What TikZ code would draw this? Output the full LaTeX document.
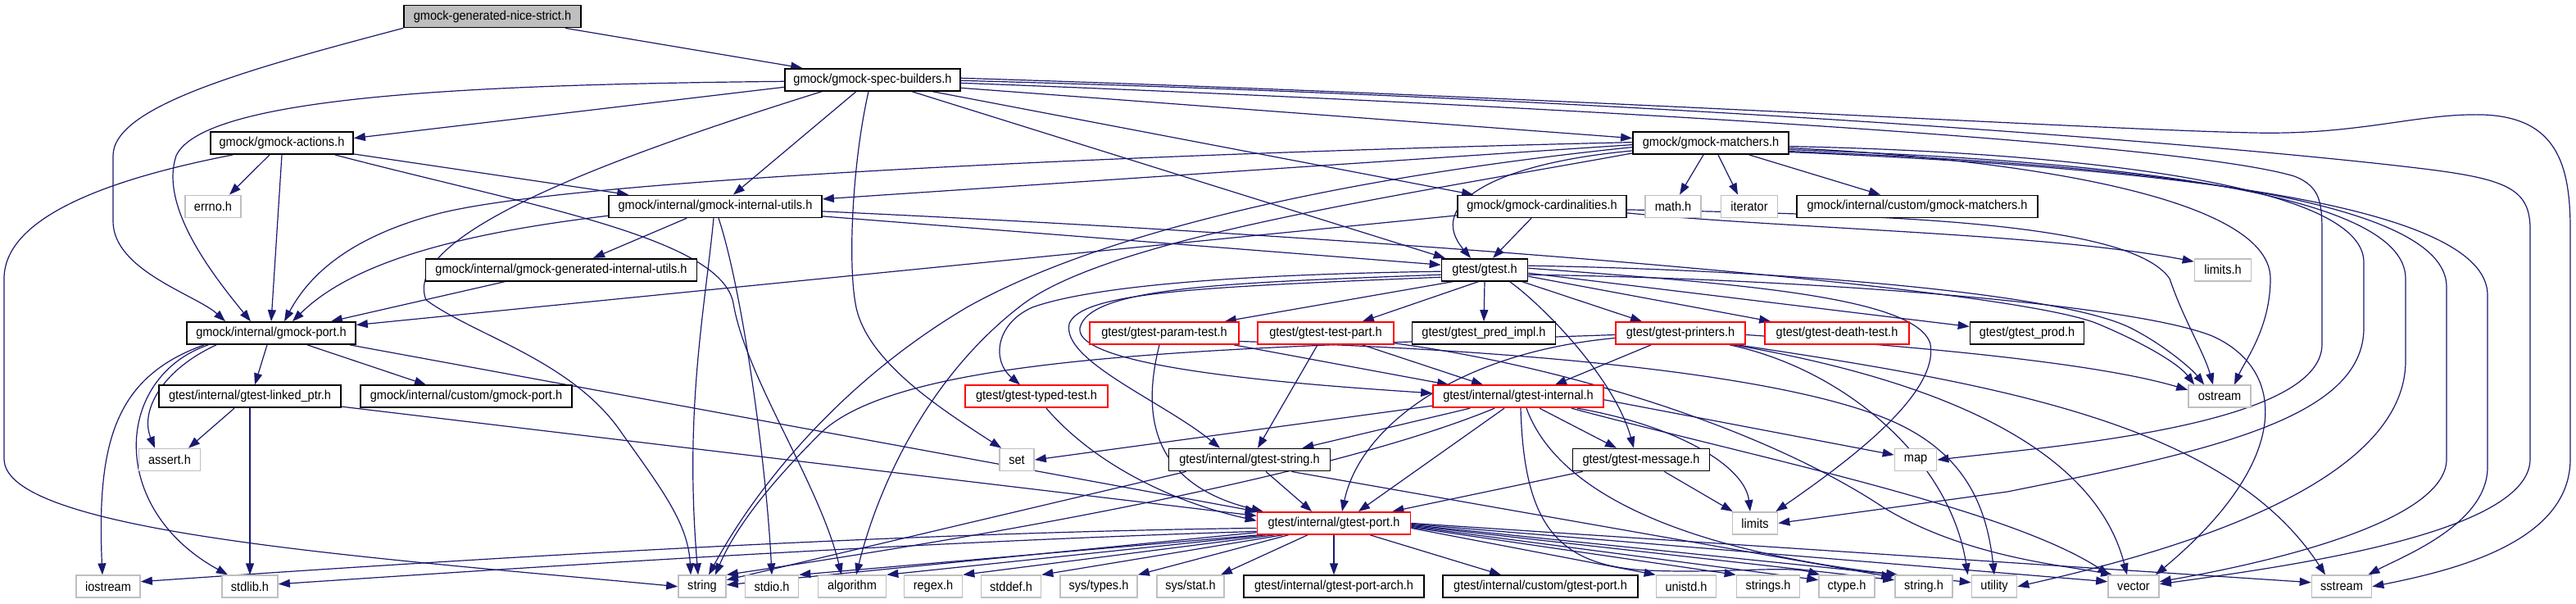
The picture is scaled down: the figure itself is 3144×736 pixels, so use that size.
\documentclass[tikz,border=0pt]{standalone}
\usepackage{fontspec}
\setmainfont{Liberation Sans}[FakeStretch=0.92]
\usetikzlibrary{arrows.meta,calc}
\definecolor{edgeblue}{RGB}{25,25,112}
\definecolor{sysgray}{RGB}{191,191,191}
\definecolor{rootgray}{RGB}{191,191,191}
\definecolor{truncred}{RGB}{255,0,0}
\pgfdeclarelayer{bg}
\pgfsetlayers{bg,main}
\tikzset{
  nd/.style={draw=black, line width=1.7pt, fill=white, minimum height=27pt, inner xsep=3pt, inner ysep=0pt, text=black},
  sys/.style={nd, draw=sysgray},
  trunc/.style={nd, draw=truncred},
  root/.style={nd, fill=rootgray},
  edg/.style={draw=edgeblue, line width=1.2pt, -{Triangle[length=14pt,width=10pt]}}
}
\begin{document}
\begin{tikzpicture}[x=1pt,y=-1pt,font=\fontsize{15.8}{18}\selectfont]
\useasboundingbox (0,0) rectangle (3144,736);
% row 0
\node[root, minimum width=216pt] (ns) at (601,20) {gmock-generated-nice-strict.h};
% row 1
\node[nd, minimum width=214pt] (sb) at (1065,97.3) {gmock/gmock-spec-builders.h};
% row 2
\node[nd, minimum width=174pt] (act) at (344,174.6) {gmock/gmock-actions.h};
\node[nd, minimum width=190pt] (mat) at (2088,174.6) {gmock/gmock-matchers.h};
% row 3
\node[sys, minimum width=68pt] (errno) at (260,251.9) {errno.h};
\node[nd, minimum width=260pt] (iu) at (873,251.9) {gmock/internal/gmock-internal-utils.h};
\node[nd, minimum width=206pt] (card) at (1882,251.9) {gmock/gmock-cardinalities.h};
\node[sys, minimum width=68pt] (math) at (2042,251.9) {math.h};
\node[sys, minimum width=69pt] (iter) at (2135,251.9) {iterator};
\node[nd, minimum width=294pt] (cgm) at (2340,251.9) {gmock/internal/custom/gmock-matchers.h};
% row 4
\node[nd, minimum width=331pt] (giu) at (685,329.2) {gmock/internal/gmock-generated-internal-utils.h};
\node[nd, minimum width=105pt] (gt) at (1812,329.2) {gtest/gtest.h};
\node[sys, minimum width=69pt] (limitsh) at (2713,329.2) {limits.h};
% row 5
\node[nd, minimum width=206pt] (gp) at (331,406.5) {gmock/internal/gmock-port.h};
\node[trunc, minimum width=182pt] (param) at (1421,406.5) {gtest/gtest-param-test.h};
\node[trunc, minimum width=166pt] (tpart) at (1618,406.5) {gtest/gtest-test-part.h};
\node[nd, minimum width=175pt] (pred) at (1811,406.5) {gtest/gtest\_pred\_impl.h};
\node[trunc, minimum width=158pt] (print) at (2051,406.5) {gtest/gtest-printers.h};
\node[trunc, minimum width=176pt] (death) at (2242,406.5) {gtest/gtest-death-test.h};
\node[nd, minimum width=139pt] (prod) at (2474,406.5) {gtest/gtest\_prod.h};
% row 6
\node[nd, minimum width=222pt] (lp) at (305,483.8) {gtest/internal/gtest-linked\_ptr.h};
\node[nd, minimum width=258pt] (cgp) at (569,483.8) {gmock/internal/custom/gmock-port.h};
\node[trunc, minimum width=174pt] (typed) at (1265,483.8) {gtest/gtest-typed-test.h};
\node[trunc, minimum width=208pt] (gi) at (1853,483.8) {gtest/internal/gtest-internal.h};
\node[sys, minimum width=76pt] (ostream) at (2709,483.8) {ostream};
% row 7
\node[sys, minimum width=75pt] (assert) at (207,561.1) {assert.h};
\node[sys, minimum width=42pt] (set) at (1241,561.1) {set};
\node[nd, minimum width=197pt] (gs) at (1525,561.1) {gtest/internal/gtest-string.h};
\node[nd, minimum width=167pt] (msg) at (2003,561.1) {gtest/gtest-message.h};
\node[sys, minimum width=51pt] (map) at (2338,561.1) {map};
% row 8
\node[trunc, minimum width=187pt] (tp) at (1628,638.4) {gtest/internal/gtest-port.h};
\node[sys, minimum width=55pt] (limits) at (2142,638.4) {limits};
% row 9
\node[sys, minimum width=78pt] (iostream) at (132,715.7) {iostream};
\node[sys, minimum width=68pt] (stdlib) at (305,715.7) {stdlib.h};
\node[sys, minimum width=58pt] (string) at (857,715.7) {string};
\node[sys, minimum width=65pt] (stdio) at (942,715.7) {stdio.h};
\node[sys, minimum width=83pt] (algorithm) at (1040,715.7) {algorithm};
\node[sys, minimum width=71pt] (regex) at (1139,715.7) {regex.h};
\node[sys, minimum width=73pt] (stddef) at (1234,715.7) {stddef.h};
\node[sys, minimum width=94pt] (systypes) at (1341,715.7) {sys/types.h};
\node[sys, minimum width=82pt] (sysstat) at (1453,715.7) {sys/stat.h};
\node[nd, minimum width=220pt] (arch) at (1628,715.7) {gtest/internal/gtest-port-arch.h};
\node[nd, minimum width=238pt] (cgtp) at (1880,715.7) {gtest/internal/custom/gtest-port.h};
\node[sys, minimum width=73pt] (unistd) at (2058,715.7) {unistd.h};
\node[sys, minimum width=77pt] (strings) at (2158,715.7) {strings.h};
\node[sys, minimum width=68pt] (ctype) at (2254,715.7) {ctype.h};
\node[sys, minimum width=70pt] (stringh) at (2348,715.7) {string.h};
\node[sys, minimum width=55pt] (utility) at (2434,715.7) {utility};
\node[sys, minimum width=62pt] (vector) at (2604,715.7) {vector};
\node[sys, minimum width=73pt] (sstream) at (2858,715.7) {sstream};

\begin{pgfonlayer}{bg}
\fill[white] (0,0) rectangle (3144,736);
% ns
\draw[edg] ($(ns.south east)+(-20,0)$) -- ($(sb.north west)+(22,0)$);
\draw[edg] (ns.south west) .. controls (300,85) and (138,130) .. (138,190) -- (138,270) .. controls (138,330) and (240,360) .. ($(gp.north)+(-56,0)$);
% sb
\draw[edg] ($(sb.west)+(0,2)$) .. controls (600,103) and (250,115) .. (215,190) .. controls (195,250) and (255,330) .. ($(gp.north)+(-25,0)$);
\draw[edg] ($(sb.west)+(0,9)$) -- ($(act.east)+(0,-6)$);
\draw[edg] ($(sb.south)+(-20,0)$) -- ($(iu.north)+(22,0)$);
\draw[edg] ($(sb.south)+(-5,0)$) .. controls (1040,200) and (1035,320) .. (1044,370) .. controls (1055,440) and (1150,500) .. ($(set.north west)+(3,0)$);
\draw[edg] ($(sb.south west)+(46,0)$) .. controls (720,200) and (490,290) .. (520,366) .. controls (580,410) and (700,440) .. (760,530) .. controls (810,600) and (840,640) .. ($(string.north)+(-14,0)$);
\draw[edg] ($(sb.east)+(0,10)$) -- ($(mat.west)+(0,-6)$);
\draw[edg] ($(sb.south east)+(-35,0)$) -- ($(card.north west)+(20,0)$);
\draw[edg] ($(sb.south east)+(-60,0)$) -- ($(gt.north west)+(5,0)$);
\draw[edg] ($(sb.east)+(0,4)$) .. controls (1800,125) and (2650,170) .. (2800,215) .. controls (2834,228) and (2834,250) .. (2834,290) -- (2834,420) .. controls (2834,520) and (2500,545) .. (map.east);
\draw[edg] ($(sb.east)+(0,-2)$) .. controls (1900,118) and (2550,158) .. (2750,162) .. controls (2880,165) and (2950,138) .. (3030,140) .. controls (3120,143) and (3137,200) .. (3137,280) -- (3137,560) .. controls (3137,660) and (3000,695) .. (sstream.east);
\draw[edg] ($(sb.east)+(0,1)$) .. controls (2000,120) and (2700,175) .. (2950,205) .. controls (3060,218) and (3088,230) .. (3088,280) -- (3088,560) .. controls (3088,650) and (2800,690) .. ($(vector.east)+(0,-3)$);
% act
\draw[edg] ($(act.south)+(-15,0)$) -- ($(errno.north)+(20,0)$);
\draw[edg] (act.south) -- (gp.north);
\draw[edg] ($(act.south east)+(0,-1)$) -- ($(iu.north west)+(25,0)$);
\draw[edg] ($(act.south east)+(-23,0)$) .. controls (650,252) and (880,290) .. (895,370) .. controls (910,460) and (1000,590) .. ($(algorithm.north)+(-13,0)$);
\draw[edg] ($(act.south west)+(28,0)$) .. controls (150,215) and (5,260) .. (5,340) -- (5,560) .. controls (5,650) and (450,680) .. (string.west);
% mat
\draw[edg] ($(mat.south)+(-9,0)$) -- ($(math.north)+(8,0)$);
\draw[edg] ($(mat.south)+(9,0)$) -- ($(iter.north)+(-14,0)$);
\draw[edg] ($(mat.south east)+(-49,0)$) -- ($(cgm.north)+(-45,0)$);
\draw[edg] ($(mat.south west)+(0,-5)$) .. controls (1820,200) and (1740,250) .. ($(gt.north)+(-17,0)$);
\draw[edg] ($(mat.west)+(0,2)$) -- ($(iu.east)+(0,-9)$);
\draw[edg] ($(mat.west)+(0,-1)$) .. controls (1500,185) and (700,215) .. (530,262) .. controls (420,292) and (375,340) .. ($(gp.north)+(16,0)$);
\draw[edg] ($(mat.west)+(0,5)$) .. controls (1650,215) and (1350,280) .. (1180,375) .. controls (1020,470) and (920,600) .. ($(string.north)+(8,0)$);
\draw[edg] ($(mat.south west)+(0,-2)$) .. controls (1700,240) and (1360,290) .. (1250,370) .. controls (1130,460) and (1070,600) .. ($(algorithm.north)+(5,0)$);
\draw[edg] ($(mat.east)+(0,6)$) .. controls (2400,190) and (2771,230) .. (2771,340) .. controls (2771,400) and (2740,440) .. ($(ostream.north)+(18,0)$);
\draw[edg] ($(mat.east)+(0,4)$) .. controls (2500,185) and (2885,220) .. (2885,320) -- (2885,400) .. controls (2885,510) and (2700,550) .. (2450,600) -- (limits.east);
\draw[edg] ($(mat.east)+(0,8)$) .. controls (2550,195) and (2936,230) .. (2936,340) -- (2936,440) .. controls (2936,600) and (2620,680) .. (utility.east);
\draw[edg] ($(mat.east)+(0,10)$) .. controls (2600,200) and (2986,240) .. (2986,350) -- (2986,560) .. controls (2986,640) and (2750,690) .. ($(vector.east)+(0,-6)$);
\draw[edg] ($(mat.east)+(0,11)$) .. controls (2650,205) and (3036,250) .. (3036,360) -- (3036,570) .. controls (3036,640) and (2930,680) .. ($(sstream.north east)+(-5,0)$);
% card
\draw[edg] ($(card.south)+(-13,0)$) -- ($(gt.north)+(10,0)$);
\draw[edg] ($(card.west)+(0,11)$) -- ($(gp.east)+(0,-10)$);
\draw[edg] ($(card.east)+(0,8)$) .. controls (2200,280) and (2500,285) .. ($(limitsh.west)+(0,-10)$);
\draw[edg] ($(card.east)+(0,4)$) .. controls (2300,262) and (2600,270) .. (2648,340) .. controls (2665,390) and (2690,430) .. ($(ostream.north)+(-8,0)$);
% iu
\draw[edg] ($(iu.south west)+(96,0)$) -- ($(giu.north)+(39,0)$);
\draw[edg] ($(iu.south west)+(0,-3)$) .. controls (560,285) and (430,320) .. ($(gp.north)+(26,0)$);
\draw[edg] ($(iu.south)+(-2,0)$) .. controls (860,380) and (835,500) .. ($(string.north)+(-5,0)$);
\draw[edg] ($(iu.south)+(4,0)$) .. controls (905,350) and (935,560) .. (stdio.north);
\draw[edg] ($(iu.east)+(0,12)$) -- ($(gt.west)+(0,-6)$);
\draw[edg] ($(iu.east)+(0,6)$) .. controls (1700,290) and (2450,350) .. (2560,395) .. controls (2620,420) and (2660,445) .. ($(ostream.north west)+(8,0)$);
% giu
\draw[edg] ($(giu.south west)+(98,0)$) -- ($(gp.north east)+(-31,0)$);
% gp
\draw[edg] ($(gp.south)+(-5,0)$) -- ($(lp.north)+(6,0)$);
\draw[edg] ($(gp.south)+(44,0)$) -- ($(cgp.north)+(-49,0)$);
\draw[edg] ($(gp.south west)+(37,0)$) .. controls (200,450) and (170,500) .. ($(assert.north)+(-18,0)$);
\draw[edg] ($(gp.south west)+(22,0)$) .. controls (140,460) and (118,540) .. ($(iostream.north)+(-7,0)$);
\draw[edg] ($(gp.south west)+(27,0)$) .. controls (140,460) and (130,620) .. ($(stdlib.north)+(-27,0)$);
\draw[edg] ($(gp.south east)+(-8,0)$) -- (tp.north west);
% lp
\draw[edg] ($(lp.south)+(-19,0)$) -- ($(assert.north)+(23,0)$);
\draw[edg] (lp.south) -- (stdlib.north);
\draw[edg] ($(lp.south east)+(0,-2)$) -- ($(tp.west)+(0,-9)$);
% gt
\draw[edg] ($(gt.south west)+(15,0)$) -- ($(param.north east)+(-18,0)$);
\draw[edg] ($(gt.south west)+(46,0)$) -- ($(tpart.north east)+(-39,0)$);
\draw[edg] (gt.south) -- (pred.north);
\draw[edg] ($(gt.south east)+(-8,0)$) -- ($(print.north)+(-47,0)$);
\draw[edg] ($(gt.east)+(0,8)$) -- ($(death.north west)+(8,0)$);
\draw[edg] ($(gt.east)+(0,4)$) -- ($(prod.west)+(0,-8)$);
\draw[edg] ($(gt.west)+(0,6)$) .. controls (1500,345) and (1330,350) .. (1318,400) .. controls (1310,450) and (1600,470) .. ($(gi.west)+(0,-4)$);
\draw[edg] ($(gt.west)+(0,9)$) .. controls (1480,350) and (1320,355) .. (1305,395) .. controls (1295,440) and (1420,490) .. ($(gs.north)+(-36,0)$);
\draw[edg] ($(gt.west)+(0,2)$) .. controls (1500,335) and (1330,350) .. (1260,375) .. controls (1215,395) and (1210,440) .. ($(typed.north)+(-20,0)$);
\draw[edg] ($(gt.south east)+(-23,0)$) .. controls (1880,370) and (1970,460) .. ($(msg.north)+(-9,0)$);
\draw[edg] ($(gt.east)+(0,-2)$) .. controls (2100,345) and (2340,360) .. (2356,420) .. controls (2366,480) and (2260,560) .. ($(limits.north east)+(-3,0)$);
\draw[edg] ($(gt.east)+(0,-5)$) .. controls (2200,330) and (2520,360) .. (2600,400) .. controls (2640,420) and (2675,450) .. ($(ostream.north west)+(20,0)$);
\draw[edg] ($(gt.east)+(0,6)$) .. controls (2200,340) and (2600,370) .. (2700,410) .. controls (2790,450) and (2800,560) .. ($(vector.north east)+(-5,0)$);
% param
\draw[edg] ($(param.south)+(-6,0)$) .. controls (1395,500) and (1400,590) .. ($(tp.north west)+(8,0)$);
\draw[edg] ($(param.south east)+(-7,0)$) -- ($(gi.north west)+(20,0)$);
\draw[edg] ($(param.east)+(0,10)$) .. controls (1800,425) and (2150,450) .. (2300,510) .. controls (2400,550) and (2425,620) .. (utility.north);
% tpart
\draw[edg] ($(tpart.south east)+(-39,0)$) -- ($(gi.north)+(-43,0)$);
\draw[edg] ($(tpart.south)+(-10,0)$) -- ($(gs.north)+(10,0)$);
\draw[edg] ($(tpart.south east)+(0,-2)$) .. controls (1900,445) and (2150,520) .. (2300,620) .. controls (2400,680) and (2520,690) .. ($(vector.north west)+(6,0)$);
% print
\draw[edg] ($(print.south west)+(44,0)$) -- ($(gi.north east)+(-60,0)$);
\draw[edg] ($(print.west)+(0,6)$) .. controls (1780,430) and (1660,520) .. ($(tp.north)+(10,0)$);
\draw[edg] ($(print.west)+(0,2)$) .. controls (1500,425) and (1100,430) .. (1000,530) .. controls (930,600) and (895,650) .. ($(string.north)+(16,0)$);
\draw[edg] ($(print.east)+(0,2)$) .. controls (2300,420) and (2550,440) .. ($(ostream.west)+(0,-8)$);
\draw[edg] ($(print.south east)+(-10,0)$) .. controls (2450,470) and (2720,520) .. ($(sstream.north)+(-20,0)$);
\draw[edg] ($(print.south east)+(-15,0)$) .. controls (2400,470) and (2560,560) .. ($(vector.north)+(-8,0)$);
\draw[edg] ($(print.south east)+(-20,0)$) .. controls (2250,450) and (2380,560) .. ($(utility.north west)+(-4,0)$);
% typed
\draw[edg] ($(typed.south)+(12,0)$) .. controls (1330,560) and (1420,610) .. ($(tp.west)+(0,-3)$);
% gi
\draw[edg] ($(gi.south west)+(46,0)$) -- ($(gs.north east)+(-35,0)$);
\draw[edg] ($(gi.south)+(-17,0)$) -- ($(tp.north)+(30,0)$);
\draw[edg] ($(gi.south west)+(0,-3)$) -- (set.east);
\draw[edg] ($(gi.south west)+(76,0)$) .. controls (1650,570) and (1300,640) .. (string.north east);
\draw[edg] ($(gi.south)+(26,0)$) -- ($(msg.north)+(-30,0)$);
\draw[edg] ($(gi.south east)+(-33,0)$) .. controls (2050,520) and (2130,570) .. ($(limits.north)+(-6,0)$);
\draw[edg] ($(gi.east)+(0,4)$) -- ($(map.west)+(0,-6)$);
\draw[edg] ($(gi.south)+(3,0)$) .. controls (1860,640) and (1900,690) .. (2010,696) .. controls (2100,700) and (2180,690) .. ($(ctype.north west)+(2,0)$);
\draw[edg] ($(gi.south)+(10,0)$) .. controls (1900,600) and (2050,670) .. ($(stringh.north west)+(4,0)$);
\draw[edg] ($(gi.south east)+(-40,0)$) .. controls (2150,560) and (2450,620) .. ($(vector.north west)+(2,0)$);
% gs
\draw[edg] ($(gs.south west)+(22,0)$) -- ($(string.east)+(0,-8)$);
\draw[edg] ($(gs.south)+(20,0)$) -- ($(tp.north)+(-27,0)$);
\draw[edg] ($(gs.south east)+(-48,0)$) -- ($(stringh.north west)+(-2,3)$);
% msg
\draw[edg] ($(msg.south west)+(13,0)$) -- ($(tp.north east)+(-23,0)$);
\draw[edg] ($(msg.south east)+(-56,0)$) -- ($(limits.north west)+(1,0)$);
% tp
\draw[edg] ($(tp.west)+(0,6)$) .. controls (1100,650) and (600,680) .. ($(iostream.east)+(0,-6)$);
\draw[edg] ($(tp.west)+(0,10)$) .. controls (1100,662) and (650,692) .. ($(stdlib.east)+(0,-3)$);
\draw[edg] ($(tp.south west)+(0,-3)$) -- ($(string.east)+(0,-2)$);
\draw[edg] ($(tp.south west)+(3,0)$) -- (stdio.north east);
\draw[edg] ($(tp.south west)+(11,0)$) -- (algorithm.north east);
\draw[edg] ($(tp.south west)+(22,0)$) -- (regex.north east);
\draw[edg] ($(tp.south west)+(32,0)$) -- (stddef.north east);
\draw[edg] ($(tp.south west)+(39,0)$) -- (systypes.north east);
\draw[edg] ($(tp.south)+(-32,0)$) -- ($(sysstat.north east)+(-5,0)$);
\draw[edg] (tp.south) -- (arch.north);
\draw[edg] ($(tp.south)+(44,0)$) -- ($(cgtp.north)+(-48,0)$);
\draw[edg] ($(tp.east)+(0,6)$) -- (unistd.north west);
\draw[edg] ($(tp.east)+(0,5)$) -- (strings.north west);
\draw[edg] ($(tp.east)+(0,4)$) -- ($(ctype.west)+(0,-8)$);
\draw[edg] ($(tp.east)+(0,3)$) -- ($(stringh.west)+(0,-8)$);
\draw[edg] ($(tp.east)+(0,2)$) -- ($(utility.west)+(0,-5)$);
\draw[edg] ($(tp.east)+(0,1)$) -- ($(vector.west)+(0,-6)$);
\draw[edg] (tp.east) -- ($(sstream.west)+(0,-5)$);
\end{pgfonlayer}
\end{tikzpicture}
\end{document}
